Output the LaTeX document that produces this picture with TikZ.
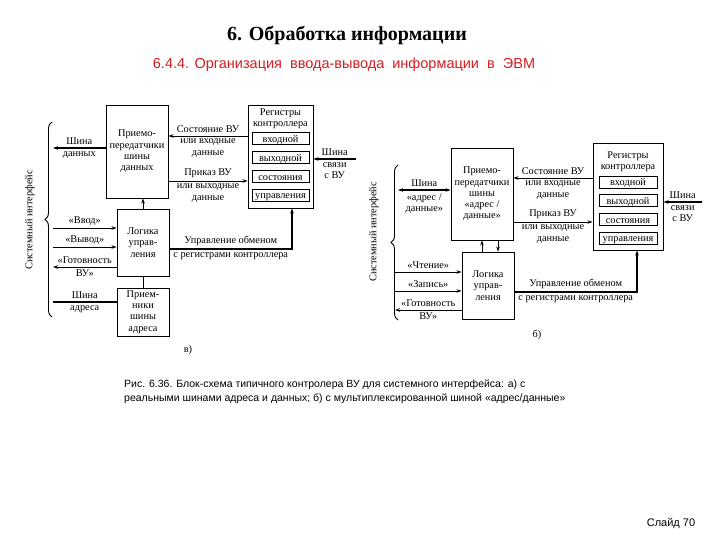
\documentclass[tikz,border=0pt]{standalone}
\usepackage{fontspec}
\setmainfont{Liberation Serif}
\setsansfont{Liberation Sans}
\usetikzlibrary{arrows.meta, positioning, decorations.pathreplacing}
\definecolor{titlered}{RGB}{214,28,32}
\newcommand\dgfont{\fontsize{10.3}{11.3}\selectfont}
\tikzset{
  blk/.style={
    rectangle, draw, line width=0.9pt, inner sep=0pt,
    align=center, font=\dgfont
  },
  regbox/.style={rectangle, draw, line width=0.8pt, inner sep=0pt,
    minimum height=12pt, text height=8.5pt, text depth=1pt, font=\dgfont},
  lbl/.style={font=\dgfont, align=center, inner sep=2.5pt},
  arr/.style={-{Stealth[length=5pt,width=3.5pt]}, line width=0.9pt},
  darr/.style={{Stealth[length=5pt,width=3.5pt]}-{Stealth[length=5pt,width=3.5pt]}, line width=1.5pt},
  barr/.style={arr, line width=1.5pt},
  bus/.style={line width=2.6pt},
  sibr/.style={decorate, decoration={brace, amplitude=7pt}, line width=0.9pt}
}

\begin{document}
\begin{tikzpicture}[x=1pt, y=-1pt]
  \useasboundingbox (0,0) rectangle (720,540);
  % заголовки слайда
  \node[font=\bfseries\fontsize{20}{24}\selectfont] (title) at (347,35)
        {6. Обработка информации};
  \node[font=\sffamily\fontsize{14.5}{17}\selectfont, text=titlered] (sub) at (344,65)
        {6.4.4. Организация\ \ ввода-вывода\ \ информации\ \ в\ \ ЭВМ};

  % ---- а) раздельные шины адреса и данных
  \node[blk, minimum width=62pt, minimum height=93pt] (tra) at (137,151.5)
        {Приемо-\\передатчики\\шины\\данных};
  \node[blk, minimum width=52pt, minimum height=67pt] (loga) at (143,242.5)
        {Логика\\управ-\\ления};
  \node[blk, minimum width=52pt, minimum height=48pt] (rca) at (143,312)
        {\raisebox{-1pt}{\parbox{52pt}{\centering Прием-\\ники\\шины\\адреса}}};
  \node[blk, minimum width=65pt, minimum height=103pt] (rega) at (280.5,156.5) {};
  \node[lbl] (rega-t) at (280.5,119) {Регистры\\контроллера};
  \node[regbox, minimum width=57pt] (rega-in)  at (280.5,138.5) {входной};
  \node[regbox, minimum width=57pt] (rega-out) at (280.5,157.5) {выходной};
  \node[regbox, minimum width=57pt] (rega-st)  at (280.5,176.5) {состояния};
  \node[regbox, minimum width=57pt] (rega-ct)  at (280.5,195)   {управления};

  \coordinate (sa) at (0,136);
  \coordinate (pa) at (0,181);
  \coordinate (sda) at (53,148);
  \coordinate (sva) at (356,159);
  \coordinate (vva) at (53,228);
  \coordinate (vya) at (53,247);
  \coordinate (gva) at (53,267);
  \coordinate (saa) at (53,302);
  \coordinate (ua) at (292,249);

  \draw[arr] (rega.west |- sa) -- (tra.east |- sa)
        node[lbl, midway, above] {Состояние ВУ}
        node[lbl, midway, below] {или входные\\данные};
  \draw[arr] (tra.east |- pa) -- (rega.west |- pa)
        node[lbl, midway, above] {Приказ ВУ}
        node[lbl, midway, below] {или выходные\\данные};
  \draw[barr] (sva) -- (rega.east |- sva)
        node[lbl, midway, above] {Шина}
        node[lbl, midway, below] {связи\\с ВУ};
  \draw[barr] (tra.west |- sda) -- (sda)
        node[lbl, midway, above] {Шина}
        node[lbl, midway, below] {данных};
  \draw[arr] (loga.north) -- (loga.north |- tra.south);
  \draw[arr] (vva) -- (loga.west |- vva) node[lbl, midway, above] {«Ввод»};
  \draw[arr] (vya) -- (loga.west |- vya) node[lbl, midway, above] {«Вывод»};
  \draw[arr] (loga.west |- gva) -- (gva)
        node[lbl, midway, above] {«Готовность}
        node[lbl, midway, below] {ВУ»};
  \draw[bus] (saa) -- (rca.west |- saa)
        node[lbl, midway, above] {Шина}
        node[lbl, midway, below] {адреса};
  \draw[line width=0.9pt] (rca.north) -- (loga.south);
  \draw[barr] (loga.east |- ua) -- (ua)
        node[lbl, midway, above] {Управление обменом}
        node[lbl, midway, below] {с регистрами контроллера}
        -- (ua |- rega.south);
  \draw[sibr] (52,317) -- (52,122);
  \node[lbl, rotate=90] (sia) at (30,220) {Системный интерфейс};
  \node[lbl] (capa) at (188,350) {в)};

  % ---- б) мультиплексированная шина
  \node[blk, minimum width=62pt, minimum height=92pt] (trb) at (482,194)
        {Приемо-\\передатчики\\шины\\«адрес /\\данные»};
  \node[blk, minimum width=52pt, minimum height=67pt] (logb) at (488,285.5)
        {Логика\\управ-\\ления};
  \node[blk, minimum width=70pt, minimum height=107pt] (regb) at (628,196.5) {};
  \node[lbl] (regb-t) at (628,162) {Регистры\\контроллера};
  \node[regbox, minimum width=58pt] (regb-in)  at (628,182)   {входной};
  \node[regbox, minimum width=58pt] (regb-out) at (628,200.5) {выходной};
  \node[regbox, minimum width=58pt] (regb-st)  at (628,219.5) {состояния};
  \node[regbox, minimum width=58pt] (regb-ct)  at (628,238)   {управления};

  \coordinate (sb) at (0,178);
  \coordinate (pb) at (0,222);
  \coordinate (sdb) at (398,190);
  \coordinate (svb) at (702,202);
  \coordinate (chb) at (395,272);
  \coordinate (zab) at (395,291);
  \coordinate (gvb) at (395,310);
  \coordinate (ub) at (637,292);

  \draw[arr] (regb.west |- sb) -- (trb.east |- sb)
        node[lbl, midway, above] {Состояние ВУ}
        node[lbl, midway, below] {или входные\\данные};
  \draw[arr] (trb.east |- pb) -- (regb.west |- pb)
        node[lbl, midway, above] {Приказ ВУ}
        node[lbl, midway, below] {или выходные\\данные};
  \draw[barr] (svb) -- (regb.east |- svb)
        node[lbl, midway, above] {Шина}
        node[lbl, midway, below] {связи\\с ВУ};
  \draw[darr] (trb.west |- sdb) -- (sdb)
        node[lbl, midway, above] {Шина}
        node[lbl, midway, below] {«адрес /\\данные»};
  \draw[arr] ([xshift=-6pt]logb.north) -- ([xshift=-6pt]logb.north |- trb.south);
  \draw[arr] ([xshift=10pt]logb.north |- trb.south) -- ([xshift=10pt]logb.north);
  \draw[arr] (chb) -- (logb.west |- chb) node[lbl, midway, above] {«Чтение»};
  \draw[arr] (zab) -- (logb.west |- zab) node[lbl, midway, above] {«Запись»};
  \draw[arr] (logb.west |- gvb) -- (gvb)
        node[lbl, midway, above] {«Готовность}
        node[lbl, midway, below] {ВУ»};
  \draw[barr] (logb.east |- ub) -- (ub)
        node[lbl, midway, above] {Управление обменом}
        node[lbl, midway, below] {с регистрами контроллера}
        -- (ub |- regb.south);
  \draw[sibr] (398,320) -- (398,165);
  \node[lbl, rotate=90] (sib) at (374,232) {Системный интерфейс};
  \node[lbl] (capb) at (537,335) {б)};

  % подпись и номер слайда
  \node[anchor=west, align=left, inner sep=0pt,
        font=\sffamily\fontsize{10.5}{14}\selectfont] (cap) at (124,392)
        {Рис. 6.36. Блок-схема типичного контролера ВУ для системного интерфейса: а) с\\
         реальными шинами адреса и данных; б) с мультиплексированной шиной «адрес/данные»};
  \node[font=\sffamily\fontsize{11}{13}\selectfont] (slide) at (671,524) {Слайд 70};
\end{tikzpicture}
\end{document}
